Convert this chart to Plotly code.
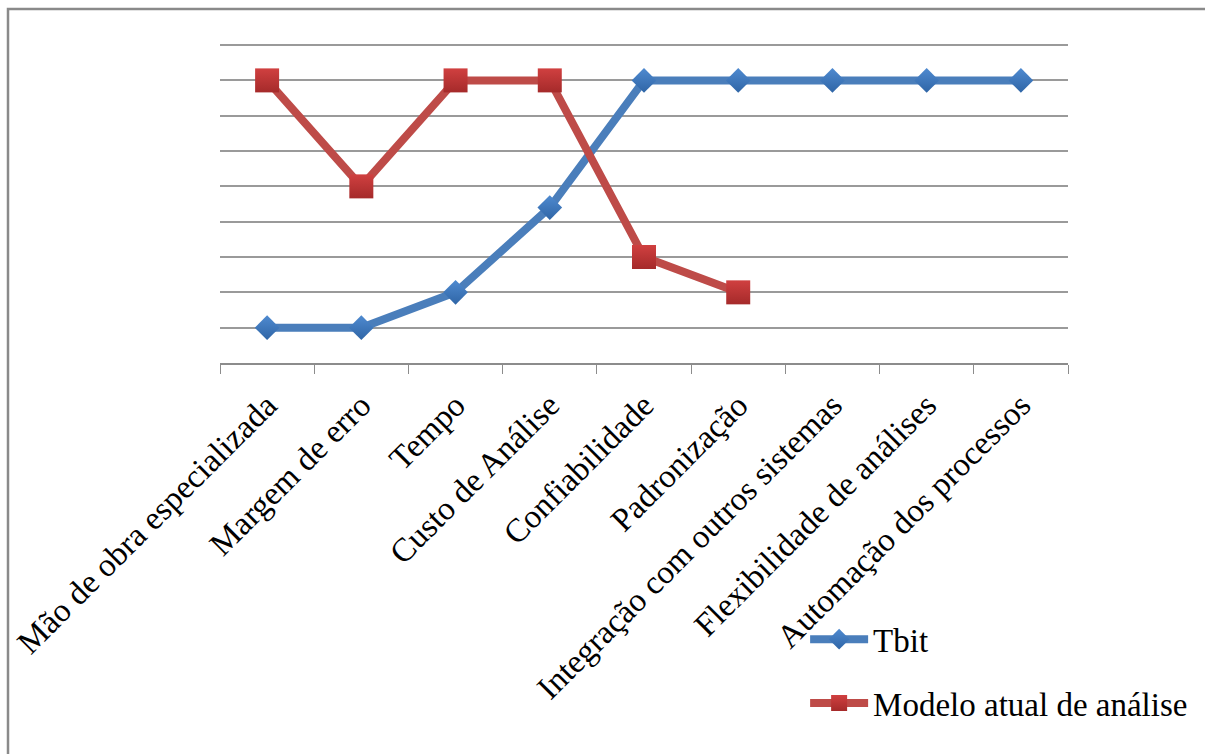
import plotly.graph_objects as go

categories = [
    "Mão de obra especializada",
    "Margem de erro",
    "Tempo",
    "Custo de Análise",
    "Confiabilidade",
    "Padronização",
    "Integração com outros sistemas",
    "Flexibilidade de análises",
    "Automação dos processos",
]
tbit = [1, 1, 2, 4.4, 8, 8, 8, 8, 8]
modelo_atual = [8, 5, 8, 8, 3, 2, None, None, None]

FONT = "Liberation Serif"

fig = go.Figure()

fig.add_trace(go.Scatter(
    x=categories, y=tbit, name="Tbit", mode="lines+markers",
    legendgroup="a",
    line=dict(color="#4a7ebb", width=8),
    marker=dict(symbol="diamond", size=19, color="#4f8ad0",
                gradient=dict(type="vertical", color="#2f65a6")),
))
fig.add_trace(go.Scatter(
    x=categories, y=modelo_atual, name="Modelo atual de análise",
    mode="lines+markers", legendgroup="b",
    line=dict(color="#be4b48", width=8),
    marker=dict(symbol="square", size=24, color="#d04040",
                gradient=dict(type="vertical", color="#a52a2a")),
))

# outer chart frame
fig.add_shape(type="rect", xref="paper", yref="paper",
              x0=-0.25, x1=1.17, y0=-1.3, y1=1.11,
              line=dict(color="#8a8a8a", width=2.5), layer="below")

fig.update_layout(
    width=1205, height=754,
    margin=dict(l=220, r=137, t=44, b=391),
    paper_bgcolor="white", plot_bgcolor="white",
    font=dict(family=FONT, size=33, color="black"),
    showlegend=True,
    legend=dict(x=0.69, y=-0.778, xanchor="left", yanchor="top",
                itemwidth=58, tracegroupgap=18,
                font=dict(family=FONT, size=33, color="black"),
                bgcolor="rgba(0,0,0,0)"),
    xaxis=dict(
        type="category", range=[-0.5, 8.5], tickangle=-45,
        tickson="boundaries",
        ticks="outside", ticklen=9, tickcolor="#8c8c8c",
        showline=True, linecolor="#8c8c8c", linewidth=1.5,
        showgrid=False, zeroline=False,
        tickfont=dict(family=FONT, size=33, color="black"),
        ticklabelstandoff=8,
        automargin=False,
    ),
    yaxis=dict(
        range=[0, 9.03], dtick=1, showticklabels=False,
        showgrid=True, gridcolor="#9a9a9a", gridwidth=1.5,
        zeroline=False, showline=False, ticks="",
        automargin=False,
    ),
)

fig.write_html("out.html")
